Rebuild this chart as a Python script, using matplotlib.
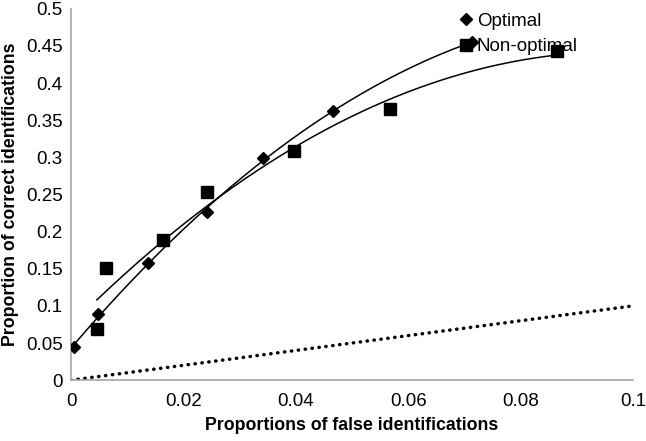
import numpy as np
import matplotlib.pyplot as plt

plt.rcParams['font.family'] = ['Liberation Sans', 'DejaVu Sans']

# data
opt_x = [0.0005, 0.0048, 0.0137, 0.0242, 0.0342, 0.0466, 0.0714]
opt_y = [0.045, 0.089, 0.158, 0.226, 0.299, 0.363, 0.455]
non_x = [0.0046, 0.0062, 0.0163, 0.0242, 0.0397, 0.0568, 0.0865]
non_y = [0.069, 0.151, 0.189, 0.253, 0.309, 0.365, 0.443]
chance_x = [0, 0.1]
chance_y = [0, 0.1]

fig = plt.figure(figsize=(6.46, 4.41), dpi=100)
ax = fig.add_axes([0.11, 0.138, 0.87, 0.842])

# polynomial trendlines (order 2), like Excel
for xs, ys in [(opt_x, opt_y), (non_x, non_y)]:
    c = np.polyfit(xs, ys, 2)
    xx = np.linspace(min(xs), max(xs), 200)
    ax.plot(xx, np.polyval(c, xx), color='black', lw=1.1, zorder=2)

ax.plot(chance_x, chance_y, color='black', lw=2.5, linestyle=(0, (0.1, 1.9)),
        dash_capstyle='round', zorder=2)

ax.plot(opt_x, opt_y, 'D', color='black', markersize=6.5, label='Optimal', zorder=3)
ax.plot(non_x, non_y, 's', color='black', markersize=8.5, label='Non-optimal', zorder=3)

ax.set_xlim(0, 0.1)
ax.set_ylim(0, 0.5)
ax.set_xticks([0, 0.02, 0.04, 0.06, 0.08, 0.1])
ax.set_xticklabels(['0', '0.02', '0.04', '0.06', '0.08', '0.1'])
ax.set_yticks(np.arange(0, 0.51, 0.05))
ax.set_yticklabels(['0', '0.05', '0.1', '0.15', '0.2', '0.25', '0.3', '0.35', '0.4', '0.45', '0.5'])
ax.tick_params(axis='x', length=0, labelsize=13.5, pad=9)
ax.tick_params(axis='y', length=0, labelsize=13.5, pad=6)

for s in ['top', 'right']:
    ax.spines[s].set_visible(False)
for s in ['left', 'bottom']:
    ax.spines[s].set_color('#a6a6a6')
    ax.spines[s].set_linewidth(1.2)

ax.set_xlabel('Proportions of false identifications', fontsize=12.8, fontweight='bold', labelpad=5)
ax.set_ylabel('Proportion of correct identifications', fontsize=12.8, fontweight='bold', labelpad=5)

leg = ax.legend(loc='upper left', bbox_to_anchor=(0.68, 1.01), frameon=False, fontsize=13.5,
                handlelength=0.6, handletextpad=0.25, labelspacing=0.45, borderaxespad=0)
leg.set_zorder(5)

fig.savefig('out.png', dpi=100)
